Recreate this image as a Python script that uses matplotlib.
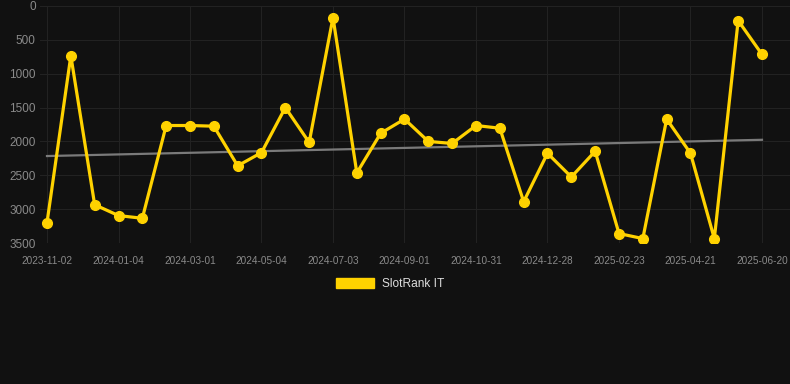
import matplotlib
matplotlib.use('Agg')
import matplotlib.pyplot as plt
import numpy as np

# rank values (lower is better, axis is inverted)
ranks = [3200, 735, 2935, 3095, 3135, 1765, 1765, 1775, 2360, 2165,
         1500, 2015, 170, 2465, 1880, 1670, 2000, 2030, 1765, 1805,
         2890, 2175, 2525, 2145, 3360, 3435, 1670, 2175, 3435, 215, 715]
tick_labels = ['2023-11-02', '2024-01-04', '2024-03-01', '2024-05-04',
               '2024-07-03', '2024-09-01', '2024-10-31', '2024-12-28',
               '2025-02-23', '2025-04-21', '2025-06-20']
y_ticks = [0, 500, 1000, 1500, 2000, 2500, 3000, 3500]
series_name = 'SlotRank IT'

BG = '#111111'
GOLD = '#FFD200'
GRID = '#222222'
TICK = '#8a8a8a'

plt.rcParams['font.family'] = ['Liberation Sans', 'DejaVu Sans']

fig = plt.figure(figsize=(7.9, 3.84), dpi=100, facecolor=BG)
ax = fig.add_axes([40/790, 141/384, 750/790, 237/384])
ax.set_facecolor(BG)

x = np.arange(len(ranks))

# linear trend through the data
k, b = np.polyfit(x, ranks, 1)
ax.plot(x[[0, -1]], k * x[[0, -1]] + b, color='#7a7a7a', lw=1.6, zorder=2)

ax.plot(x, ranks, color=GOLD, lw=2.3, marker='o', ms=7, mec=GOLD, mfc=GOLD,
        solid_joinstyle='miter', zorder=3, label=series_name)

ax.set_ylim(3500, 0)
ax.set_xlim(-7/23.83, 30 + 28/23.83)
ax.set_yticks(y_ticks)
ax.set_xticks(x[::3])
ax.set_xticklabels(tick_labels)

ax.grid(True, color=GRID, lw=0.8)
ax.set_axisbelow(True)
for s in ax.spines.values():
    s.set_visible(False)
ax.tick_params(axis='both', length=0, colors=TICK)
ax.tick_params(axis='y', labelsize=8.5, pad=3)
ax.tick_params(axis='x', labelsize=7.2, pad=9)

leg = fig.legend(handles=[plt.Rectangle((0, 0), 1, 1, color=GOLD)],
                 labels=[series_name], loc='center', bbox_to_anchor=(390/790, 1 - 284/384),
                 frameon=False, fontsize=8.6, handlelength=3.2, handleheight=0.9,
                 handletextpad=0.6)
for t in leg.get_texts():
    t.set_color('#dddddd')

fig.savefig('out.png', dpi=100, facecolor=BG)
